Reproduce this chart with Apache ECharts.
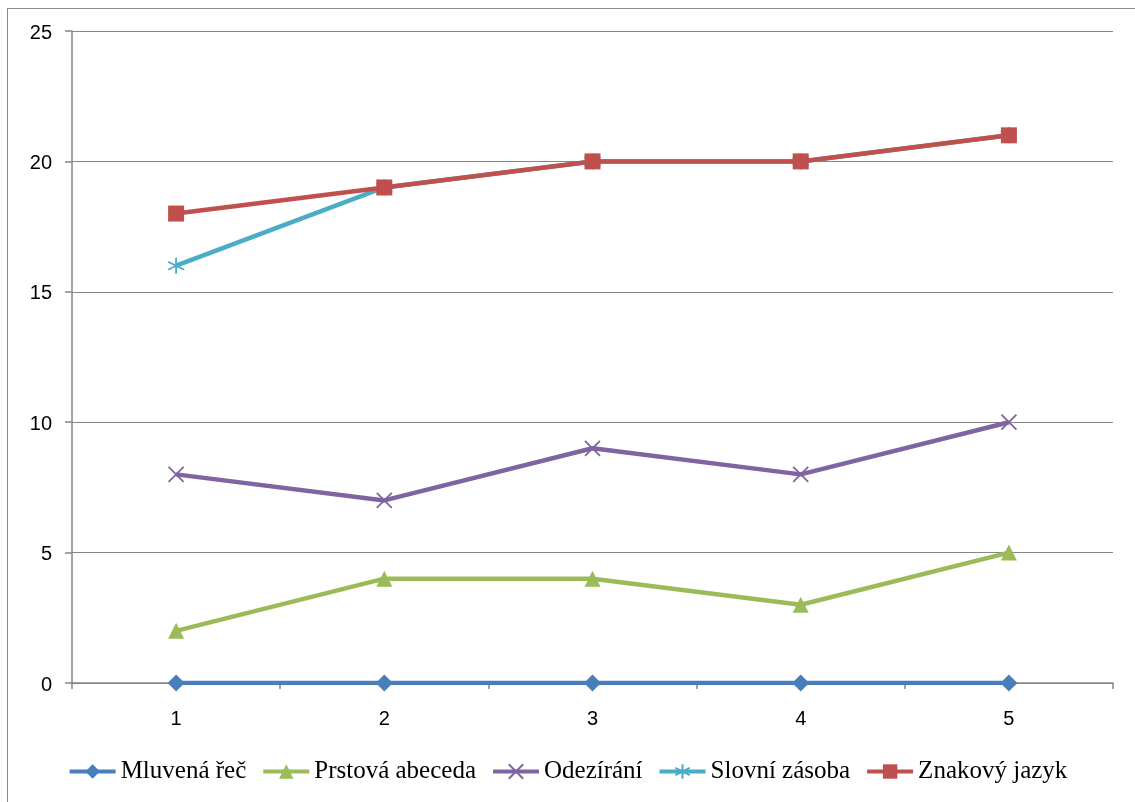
<!DOCTYPE html>
<html>
<head>
<meta charset="utf-8">
<script src="https://cdn.jsdelivr.net/npm/echarts@6/dist/echarts.min.js"></script>
<style>
  html, body { margin: 0; padding: 0; background: #fff; overflow: hidden; }
  .frame { position: absolute; left: 7px; top: 8px; width: 1200px; height: 900px; border: 1.5px solid #8c8c8c; }
  #chart { position: absolute; left: 0; top: 0; width: 1135px; height: 802px; }
</style>
</head>
<body>
<div class="frame"></div>
<div id="chart"></div>
<script>
const categories = ['1', '2', '3', '4', '5']
const mluvenaRec = [0, 0, 0, 0, 0]
const prstovaAbeceda = [2, 4, 4, 3, 5]
const odezirani = [8, 7, 9, 8, 10]
const slovniZasoba = [16, 19, 20, 20, 21]
const znakovyJazyk = [18, 19, 20, 20, 21]

const crossPath = 'path://M0,0L10,10M10,0L0,10'
const starPath = 'path://M5,0L5,10M0.7,2.5L9.3,7.5M0.7,7.5L9.3,2.5'

const mkSeries = (name, data, color, symbol, size, stroke) => ({
  name,
  type: 'line',
  data,
  symbol,
  symbolSize: size,
  showAllSymbol: true,
  lineStyle: { color, width: 4.5 },
  itemStyle: stroke
    ? { color: 'transparent', borderColor: color, borderWidth: 1.8 }
    : { color, borderWidth: 0 },
  emphasis: { disabled: true },
  animation: false
})

const chart = echarts.init(document.getElementById('chart'))
chart.setOption({
  backgroundColor: 'transparent',
  textStyle: { fontFamily: 'Liberation Sans' },
  grid: { left: 72, right: 22, top: 31, bottom: 119, containLabel: false },
  legend: {
    bottom: 13,
    left: 'center',
    itemWidth: 46,
    itemHeight: 18,
    itemGap: 15,
    lineStyle: { width: 4 },
    textStyle: { fontFamily: 'Liberation Serif', fontSize: 25, color: '#000' },
    data: ['Mluvená řeč', 'Prstová abeceda', 'Odezírání', 'Slovní zásoba', 'Znakový jazyk']
  },
  xAxis: {
    type: 'category',
    data: categories,
    boundaryGap: true,
    axisLine: { lineStyle: { color: '#868686', width: 1.5 } },
    axisTick: { show: true, inside: false, length: 6, alignWithLabel: false, lineStyle: { color: '#868686', width: 1.5 } },
    axisLabel: { margin: 26, fontSize: 20, color: '#000' },
    splitLine: { show: false }
  },
  yAxis: {
    type: 'value',
    min: 0,
    max: 25,
    interval: 5,
    axisLine: { show: true, lineStyle: { color: '#868686', width: 1.5 } },
    axisTick: { show: true, length: 7, lineStyle: { color: '#868686', width: 1.5 } },
    axisLabel: { margin: 20, fontSize: 20, color: '#000', verticalAlign: 'top', lineHeight: 20, padding: [-8, 0, 0, 0] },
    splitLine: { show: true, lineStyle: { color: '#868686', width: 1.2 } }
  },
  series: [
    mkSeries('Mluvená řeč', mluvenaRec, '#4a7ebb', 'diamond', 17, false),
    mkSeries('Prstová abeceda', prstovaAbeceda, '#9bbb59', 'triangle', 16, false),
    mkSeries('Odezírání', odezirani, '#8064a2', crossPath, 15, true),
    mkSeries('Slovní zásoba', slovniZasoba, '#4bacc6', starPath, 16, true),
    mkSeries('Znakový jazyk', znakovyJazyk, '#c0504d', 'rect', 16, false)
  ]
})
</script>
</body>
</html>
